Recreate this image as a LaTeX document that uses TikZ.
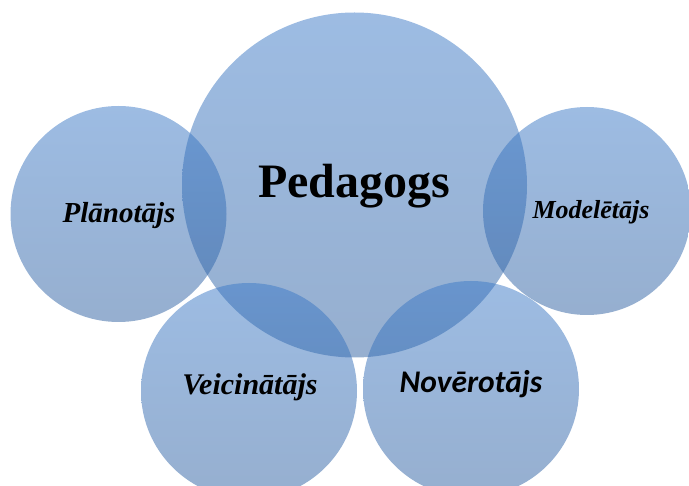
\documentclass[tikz,border=0pt]{standalone}
\usepackage{fontspec}
\setmainfont{Liberation Serif}
\newfontfamily\calibriFont{Carlito}
\usepackage{tikz}
\usetikzlibrary{
	calc,
	positioning
}
\definecolor{bubbleTop}{RGB}{59,121,199}
\definecolor{bubbleBottom}{RGB}{45,95,160}
\tikzset{every path/.append style={line width=0.5pt}}
\tikzset{
	bubble/.style={circle,inner sep=0pt,outer sep=0pt,top color=bubbleTop,bottom color=bubbleBottom,fill opacity=0.5},
	role/.style={anchor=base,inner sep=0pt,font=\fontsize{30}{32}\selectfont\bfseries\itshape}
}
\newcommand{\tikzBubble}[3][]{\node (#3) at #2 [bubble,#1]{};}

\begin{document}
\begin{tikzpicture}[x=1pt,y=-1pt]
							\useasboundingbox (0,0) rectangle (689,486);
							
							% Teacher in the middle
							\tikzBubble[minimum size=345pt]{(354.5,185)}{ped}
							
							% Roles round it
							\tikzBubble[minimum size=216pt]{(118.5,214)}{plan}
							\tikzBubble[minimum size=208pt]{(587,211)}{model}
							\tikzBubble[minimum size=216pt]{(249,391)}{veic}
							\tikzBubble[minimum size=216pt]{(471,389)}{nov}
							
							% Texts
							\node (pedT) at (354,198) [anchor=base,inner sep=0pt,font=\fontsize{48}{50}\selectfont\bfseries]{Pedagogs};
							\node (planT) at (119,223) [role,font=\fontsize{29}{31}\selectfont\bfseries\itshape]{Plānotājs};
							\node (modelT) at (591,219) [role,font=\fontsize{26}{28}\selectfont\bfseries\itshape]{Modelētājs};
							\node (veicT) at (250,395) [role]{Veicinātājs};
							\node (novT) at (471,393) [role,font=\fontsize{31.5}{33}\calibriFont\bfseries\itshape]{Novērotājs};
						\end{tikzpicture}
\end{document}
